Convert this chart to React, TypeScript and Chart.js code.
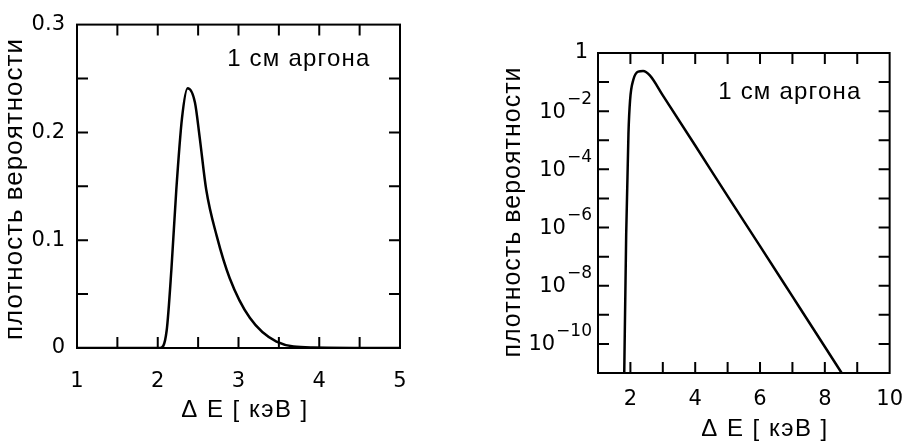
import React, { useEffect, useRef } from "react";
import { Chart, registerables } from "chart.js";
Chart.register(...registerables);

// ---- Left panel (linear) ----
const linEnergy = [1.0, 2.03, 2.11, 2.17, 2.23, 2.3, 2.37, 2.46, 2.52, 2.6, 2.73, 2.89, 3.14, 3.47, 3.92, 5.0];
const linDensity = [0, 0, 0.016, 0.074, 0.147, 0.213, 0.241, 0.228, 0.195, 0.147, 0.104, 0.065, 0.028, 0.006, 0.0005, 0];
const linXTicks = [1, 2, 3, 4, 5];
const linXTickLabels = ["1", "2", "3", "4", "5"];
const linXMinor = [1.5, 2, 2.5, 3, 3.5, 4, 4.5];
const linYTicks = [0, 0.1, 0.2, 0.3];
const linYTickLabels = ["0", "0.1", "0.2", "0.3"];
const linYMinor = [0.05, 0.1, 0.15, 0.2, 0.25];

// ---- Right panel (logarithmic) ----
const logEnergy = [1.81, 1.87, 1.94, 1.99, 2.09, 2.24, 2.39, 2.6, 3, 4, 5, 6, 7, 8, 8.52];
const logDensity = [1e-11, 6e-7, 1.7e-3, 2.4e-2, 0.12, 0.23, 0.24, 0.17, 3.5e-2, 6.6e-4, 1.2e-5, 2.3e-7, 4.3e-9, 8e-11, 1e-11];
const logXTicks = [2, 4, 6, 8, 10];
const logXTickLabels = ["2", "4", "6", "8", "10"];
const logXMinor = [2, 3, 4, 5, 6, 7, 8, 9];
const logYTicks = [1, 1e-2, 1e-4, 1e-6, 1e-8, 1e-10];
const logYTickBase = ["1", "10", "10", "10", "10", "10"];
const logYTickExp = ["", "\u22122", "\u22124", "\u22126", "\u22128", "\u221210"];
const logYMinor = [1e-1, 1e-2, 1e-3, 1e-4, 1e-5, 1e-6, 1e-7, 1e-8, 1e-9, 1e-10];

const annotationText = "1 см аргона";
const xTitle = "Δ E [ кэВ ]";
const yTitle = "плотность вероятности";

const TICK_FAMILY = "'DejaVu Sans', sans-serif";
const TICK_FONT = { family: TICK_FAMILY, size: 21 };
const TEXT_FONT = "'Liberation Sans', Arial, sans-serif";

type PanelCfg = {
  width: number;
  height: number;
  area: { left: number; right: number; top: number; bottom: number };
  xMinor: number[];
  yMinor: number[];
  annot: { x: number; y: number };
  xTitlePos: { x: number; y: number };
  yTitlePos: { x: number; y: number };
  yTitleSize: number;
  xPad: number;
  yPad: number;
  log: boolean;
};

function framePlugin(cfg: PanelCfg) {
  return {
    id: "frameTicks",
    afterDraw(chart: any) {
      const ctx = chart.ctx as CanvasRenderingContext2D;
      const { left, right, top, bottom } = chart.chartArea;
      const xs = chart.scales.x;
      const ys = chart.scales.y;
      const tl = 11;
      ctx.save();
      ctx.strokeStyle = "#000";
      ctx.lineWidth = 2;
      ctx.strokeRect(left, top, right - left, bottom - top);
      ctx.beginPath();
      cfg.xMinor.forEach((v) => {
        const px = xs.getPixelForValue(v);
        ctx.moveTo(px, bottom);
        ctx.lineTo(px, bottom - tl);
        ctx.moveTo(px, top);
        ctx.lineTo(px, top + tl);
      });
      cfg.yMinor.forEach((v) => {
        const py = ys.getPixelForValue(v);
        ctx.moveTo(left, py);
        ctx.lineTo(left + tl, py);
        ctx.moveTo(right, py);
        ctx.lineTo(right - tl, py);
      });
      ctx.stroke();

      ctx.fillStyle = "#000";
      // log-axis tick labels with real superscript exponents
      if (cfg.log) {
        logYTicks.forEach((v, i) => {
          const py = ys.getPixelForValue(v);
          const exp = logYTickExp[i];
          ctx.textBaseline = "middle";
          ctx.textAlign = "right";
          if (!exp) {
            ctx.font = `21px ${TICK_FAMILY}`;
            ctx.fillText(logYTickBase[i], left - 10, py);
          } else {
            ctx.font = `17px ${TICK_FAMILY}`;
            const ex = left - 6;
            ctx.fillText(exp, ex, py - 12);
            const w = ctx.measureText(exp).width;
            ctx.font = `21px ${TICK_FAMILY}`;
            ctx.fillText(logYTickBase[i], ex - w - 1, py + 1);
          }
        });
      }

      // annotation
      (ctx as any).letterSpacing = "1.2px";
      ctx.font = `24px ${TEXT_FONT}`;
      ctx.textAlign = "left";
      ctx.textBaseline = "middle";
      ctx.fillText(annotationText, xs.getPixelForValue(cfg.annot.x), ys.getPixelForValue(cfg.annot.y));
      // x title
      (ctx as any).letterSpacing = "1.5px";
      ctx.font = `24px ${TEXT_FONT}`;
      ctx.textAlign = "center";
      ctx.fillText(xTitle, cfg.xTitlePos.x, cfg.xTitlePos.y);
      // y title
      (ctx as any).letterSpacing = "1px";
      ctx.translate(cfg.yTitlePos.x, cfg.yTitlePos.y);
      ctx.rotate(-Math.PI / 2);
      ctx.font = `${cfg.yTitleSize}px ${TEXT_FONT}`;
      ctx.fillText(yTitle, 0, 0);
      ctx.restore();
    },
  };
}

function Panel({ cfg, xs, ys }: { cfg: PanelCfg; xs: number[]; ys: number[] }) {
  const ref = useRef<HTMLCanvasElement>(null);
  useEffect(() => {
    if (!ref.current) return;
    const a = cfg.area;
    const log = cfg.log;
    const xTickVals = log ? logXTicks : linXTicks;
    const xTickLabs = log ? logXTickLabels : linXTickLabels;
    const yTickVals = log ? logYTicks : linYTicks;
    const chart = new Chart(ref.current, {
      type: "line",
      data: {
        datasets: [
          {
            data: xs.map((x, i) => ({ x, y: ys[i] })),
            borderColor: "#000",
            borderWidth: 2.5,
            pointRadius: 0,
            cubicInterpolationMode: "monotone",
            fill: false,
          },
        ],
      },
      options: {
        responsive: false,
        animation: false,
        events: [],
        layout: {
          padding: { left: 0, top: a.top, right: cfg.width - a.right, bottom: 0 },
        },
        plugins: { legend: { display: false }, tooltip: { enabled: false }, title: { display: false } },
        scales: {
          x: {
            type: "linear",
            min: 1,
            max: log ? 10 : 5,
            grid: { display: false, drawTicks: false },
            border: { display: false },
            afterFit: (s: any) => {
              s.height = cfg.height - a.bottom;
            },
            afterBuildTicks: (s: any) => {
              s.ticks = xTickVals.map((v) => ({ value: v }));
            },
            ticks: {
              color: "#000",
              font: TICK_FONT,
              padding: cfg.xPad,
              maxRotation: 0,
              autoSkip: false,
              callback: (_v: any, i: number) => xTickLabs[i],
            },
          },
          y: {
            type: log ? "logarithmic" : "linear",
            min: log ? 1e-11 : 0,
            max: log ? 1 : 0.3,
            grid: { display: false, drawTicks: false },
            border: { display: false },
            afterFit: (s: any) => {
              s.width = a.left;
            },
            afterBuildTicks: (s: any) => {
              s.ticks = yTickVals.map((v) => ({ value: v }));
            },
            ticks: {
              display: !log,
              color: "#000",
              font: TICK_FONT,
              padding: cfg.yPad,
              autoSkip: false,
              callback: (_v: any, i: number) => linYTickLabels[i],
            },
          },
        },
      } as any,
      plugins: [framePlugin(cfg)],
    });
    return () => chart.destroy();
  }, []);
  return (
    <canvas
      ref={ref}
      width={cfg.width}
      height={cfg.height}
      style={{ display: "block", width: cfg.width, height: cfg.height }}
    />
  );
}

const leftCfg: PanelCfg = {
  width: 460,
  height: 441,
  area: { left: 77, right: 400, top: 18, bottom: 348 },
  xMinor: linXMinor,
  yMinor: linYMinor,
  annot: { x: 2.86, y: 0.268 },
  xTitlePos: { x: 245, y: 410 },
  yTitlePos: { x: 15, y: 189 },
  yTitleSize: 26,
  xPad: 21,
  yPad: 12,
  log: false,
};

const rightCfg: PanelCfg = {
  width: 457,
  height: 441,
  area: { left: 138, right: 437, top: 53, bottom: 373 },
  xMinor: logXMinor,
  yMinor: logYMinor,
  annot: { x: 4.71, y: 0.046 },
  xTitlePos: { x: 305, y: 429 },
  yTitlePos: { x: 53, y: 212 },
  yTitleSize: 25,
  xPad: 14,
  yPad: 6,
  log: true,
};

export default function App() {
  return (
    <div style={{ position: "absolute", left: 0, top: 0, width: 917, height: 441, background: "#fff", display: "flex" }}>
      <Panel cfg={leftCfg} xs={linEnergy} ys={linDensity} />
      <Panel cfg={rightCfg} xs={logEnergy} ys={logDensity} />
    </div>
  );
}
